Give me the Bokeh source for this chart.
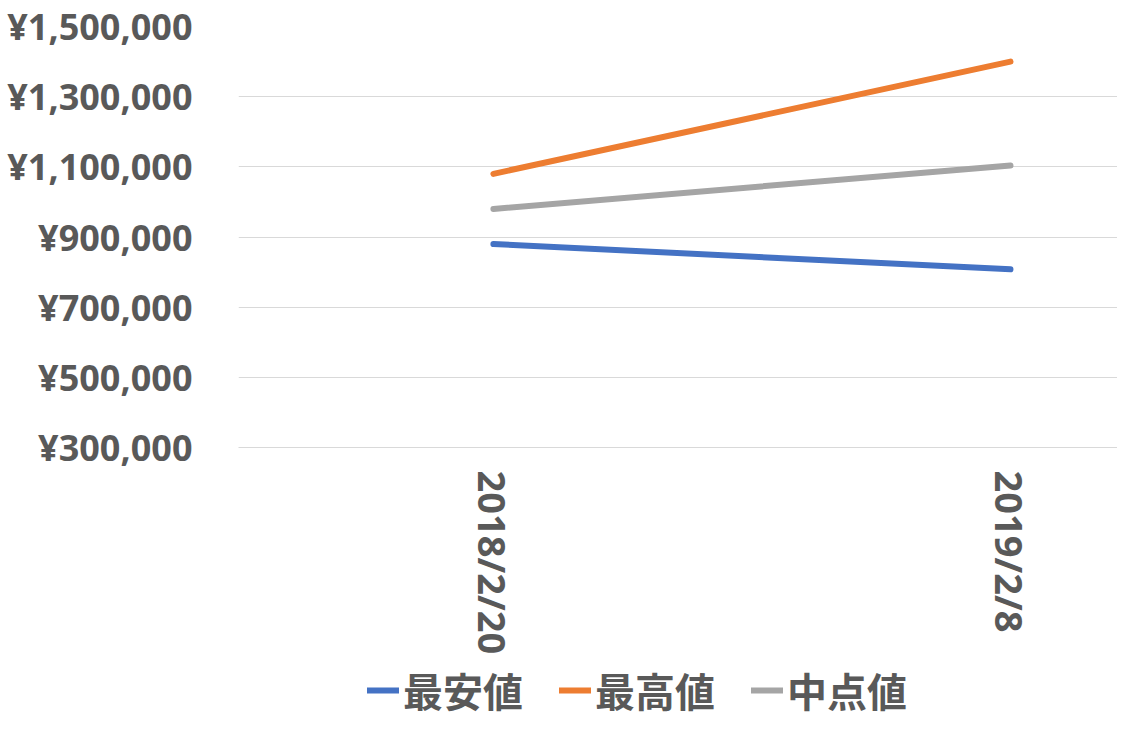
import math
from bokeh.plotting import figure
from bokeh.models import Range1d, FixedTicker, Legend, LegendItem
from bokeh.layouts import column
from bokeh.embed import file_html
from bokeh.resources import INLINE

categories = ["2018/2/20", "2019/2/8"]
lowest = [880000, 808000]
highest = [1080000, 1400000]
midpoint = [980000, 1104000]
series_names = ["最安値", "最高値", "中点値"]
series_colors = ["#4472C4", "#ED7D31", "#A5A5A5"]
y_ticks = [300000, 500000, 700000, 900000, 1100000, 1300000, 1500000]
y_tick_labels = ["¥300,000", "¥500,000", "¥700,000", "¥900,000", "¥1,100,000", "¥1,300,000", "¥1,500,000"]

xs = list(range(len(categories)))
text_color = "#595959"
font = "Noto Sans"

p = figure(width=1117, height=657, output_backend="svg", toolbar_location=None,
           x_range=Range1d(-0.493, 1.207), y_range=Range1d(300000, 1500000),
           min_border_left=238, min_border_top=26, min_border_right=0, min_border_bottom=207)
p.outline_line_color = None

p.yaxis.ticker = FixedTicker(ticks=y_ticks)
p.yaxis.major_label_overrides = {t: l for t, l in zip(y_ticks, y_tick_labels)}
p.yaxis.axis_line_color = None
p.yaxis.major_tick_line_color = None
p.yaxis.minor_tick_line_color = None
p.yaxis.major_label_standoff = 40
p.yaxis.major_label_text_font = font
p.yaxis.major_label_text_font_size = "36px"
p.yaxis.major_label_text_font_style = "bold"
p.yaxis.major_label_text_color = text_color

p.xaxis.ticker = FixedTicker(ticks=xs)
p.xaxis.major_label_overrides = {i: c for i, c in zip(xs, categories)}
p.xaxis.axis_line_color = "#D9D9D9"
p.xaxis.axis_line_width = 1
p.xaxis.major_tick_line_color = None
p.xaxis.minor_tick_line_color = None
p.xaxis.major_label_orientation = -math.pi / 2
p.xaxis.major_label_standoff = 17
p.xaxis.major_label_text_font = font
p.xaxis.major_label_text_font_size = "38px"
p.xaxis.major_label_text_font_style = "bold"
p.xaxis.major_label_text_color = text_color

p.xgrid.grid_line_color = None
p.ygrid.grid_line_color = "#D9D9D9"
p.ygrid.grid_line_width = 1

for color, vals in zip(series_colors, [lowest, highest, midpoint]):
    p.line(xs, vals, line_color=color, line_width=6, line_cap="round", line_join="round")

# legend strip below the chart
lg = figure(width=1117, height=67, output_backend="svg", toolbar_location=None,
            x_axis_type=None, y_axis_type=None, min_border=0,
            x_range=Range1d(-0.493, 1.207), y_range=Range1d(300000, 1500000))
lg.outline_line_color = None
items = []
for name, color, vals in zip(series_names, series_colors, [lowest, highest, midpoint]):
    r = lg.line(xs, vals, line_color=color, line_width=6, line_cap="round", visible=False)
    items.append(LegendItem(label=name, renderers=[r]))

legend = Legend(items=items, orientation="horizontal", location=(129, 5),
                label_text_font="Noto Sans CJK JP", label_text_font_size="40px",
                label_text_font_style="bold", label_text_color=text_color,
                glyph_width=32, glyph_height=40, label_height=40, label_standoff=4,
                spacing=36, padding=0, margin=0, border_line_color=None,
                background_fill_alpha=0, inactive_fill_alpha=0)
lg.add_layout(legend, "center")

layout = column(p, lg, spacing=0)
open("out.html", "w").write(file_html(layout, INLINE))
